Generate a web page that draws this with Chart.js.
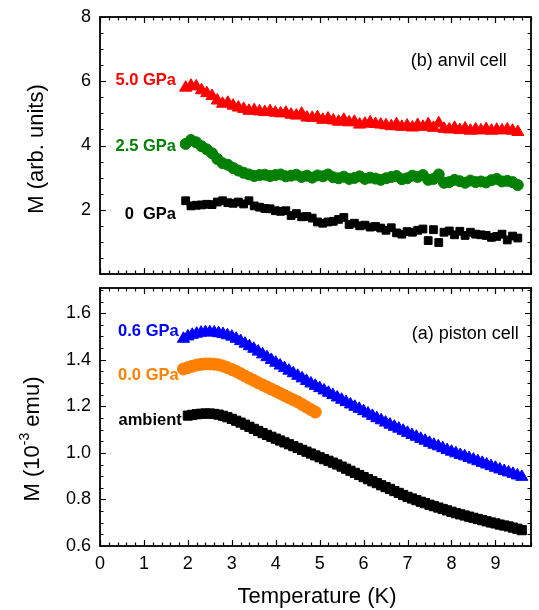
<!DOCTYPE html>
<html>
<head>
<meta charset="utf-8">
<script src="https://cdn.jsdelivr.net/npm/chart.js@4.4.0/dist/chart.umd.min.js"></script>
<style>
  body { margin: 0; background: #fff; }
  #wrap { position: relative; width: 539px; height: 610px; }
  canvas { position: absolute; left: 0; }
  #anvilChart { top: 0; }
  #pistonChart { top: 280px; }
</style>
</head>
<body>
<div id="wrap">
  <canvas id="pistonChart" width="539" height="330"></canvas>
  <canvas id="anvilChart" width="539" height="282"></canvas>
</div>
<script>
// --- data ---

// (b) anvil cell
const anvilTemps = [
  1.95,2.07,2.19,2.31,2.43,2.55,2.67,2.79,
  2.91,3.03,3.15,3.27,3.39,3.51,3.63,3.75,
  3.87,3.99,4.11,4.23,4.35,4.47,4.59,4.71,
  4.83,4.95,5.07,5.19,5.31,5.43,5.55,5.67,
  5.79,5.91,6.03,6.15,6.27,6.39,6.51,6.63,
  6.75,6.87,6.99,7.11,7.23,7.35,7.47,7.59,
  7.71,7.83,7.95,8.07,8.19,8.31,8.43,8.55,
  8.67,8.79,8.91,9.03,9.15,9.27,9.39,9.51
];
const anvil50GPa = [
  5.80,5.86,5.84,5.72,5.63,5.54,5.40,5.30,
  5.33,5.24,5.18,5.14,5.08,5.10,5.06,5.04,
  5.07,5.02,5.00,5.02,4.96,4.93,4.99,4.87,
  4.86,4.88,4.80,4.84,4.78,4.74,4.80,4.72,
  4.74,4.65,4.68,4.72,4.67,4.65,4.63,4.60,
  4.66,4.58,4.62,4.56,4.64,4.58,4.66,4.55,
  4.69,4.52,4.50,4.55,4.48,4.53,4.46,4.50,
  4.47,4.51,4.46,4.49,4.47,4.50,4.46,4.42
];
const anvil25GPa = [
  4.05,4.17,4.10,3.98,3.88,3.76,3.58,3.45,
  3.40,3.30,3.22,3.15,3.10,3.05,3.08,3.09,
  3.05,3.08,3.10,3.04,3.06,3.09,3.02,3.06,
  3.00,3.07,3.04,3.10,3.01,2.98,3.03,2.96,
  2.99,3.04,2.96,3.00,2.97,2.93,2.98,3.02,
  3.05,2.95,2.98,3.06,3.02,3.08,2.93,2.96,
  3.10,2.84,2.86,2.93,2.89,2.84,2.91,2.86,
  2.88,2.85,2.92,2.96,2.88,2.90,2.86,2.77
];
const anvil0GPa = [
  2.28,2.12,2.14,2.15,2.17,2.16,2.24,2.28,
  2.22,2.20,2.24,2.18,2.28,2.12,2.08,2.04,
  2.03,1.97,1.95,1.97,1.82,1.88,1.78,1.79,
  1.74,1.62,1.58,1.62,1.64,1.70,1.76,1.54,
  1.58,1.50,1.52,1.46,1.48,1.43,1.36,1.44,
  1.28,1.24,1.32,1.30,1.36,1.40,1.04,1.38,
  0.98,1.30,1.34,1.22,1.33,1.20,1.30,1.24,
  1.22,1.20,1.14,1.17,1.24,1.06,1.18,1.12
];

// (a) piston cell
const pistonTemps = [
  1.9,2.0,2.1,2.2,2.3,2.4,2.5,2.6,2.7,2.8,
  2.9,3.0,3.1,3.2,3.3,3.4,3.5,3.6,3.7,3.8,
  3.9,4.0,4.1,4.2,4.3,4.4,4.5,4.6,4.7,4.8,
  4.9,5.0,5.1,5.2,5.3,5.4,5.5,5.6,5.7,5.8,
  5.9,6.0,6.1,6.2,6.3,6.4,6.5,6.6,6.7,6.8,
  6.9,7.0,7.1,7.2,7.3,7.4,7.5,7.6,7.7,7.8,
  7.9,8.0,8.1,8.2,8.3,8.4,8.5,8.6,8.7,8.8,
  8.9,9.0,9.1,9.2,9.3,9.4,9.5,9.6
];
const piston06GPa = [
  1.490,1.500,1.507,1.512,1.516,1.518,1.518,1.517,1.514,1.510,
  1.505,1.499,1.490,1.480,1.469,1.458,1.447,1.435,1.423,1.411,
  1.399,1.387,1.375,1.364,1.353,1.342,1.331,1.320,1.309,1.298,
  1.288,1.278,1.268,1.258,1.248,1.238,1.228,1.218,1.208,1.198,
  1.189,1.179,1.169,1.159,1.149,1.140,1.130,1.121,1.112,1.104,
  1.095,1.086,1.077,1.069,1.060,1.052,1.043,1.035,1.028,1.020,
  1.012,1.005,0.998,0.991,0.985,0.978,0.971,0.964,0.957,0.950,
  0.943,0.936,0.929,0.922,0.916,0.910,0.903,0.897
];
// 0.0 GPa only runs 1.9 .. 4.9 K
const piston00GPa = [
  1.360,1.366,1.372,1.377,1.380,1.382,1.382,1.381,1.378,1.373,
  1.366,1.358,1.350,1.340,1.330,1.320,1.311,1.301,1.292,1.283,
  1.274,1.265,1.256,1.246,1.237,1.228,1.219,1.208,1.197,1.186,
  1.175
];
// ambient starts at 2.0 K
const pistonAmbient = [
  1.160,1.163,1.166,1.168,1.169,1.169,1.167,1.164,1.159,1.153,
  1.146,1.138,1.130,1.121,1.112,1.103,1.094,1.085,1.077,1.069,
  1.061,1.053,1.045,1.037,1.029,1.021,1.013,1.005,0.997,0.989,
  0.981,0.973,0.966,0.958,0.950,0.941,0.932,0.923,0.914,0.905,
  0.896,0.887,0.878,0.870,0.861,0.853,0.845,0.836,0.828,0.819,
  0.811,0.804,0.797,0.790,0.784,0.777,0.771,0.765,0.759,0.753,
  0.747,0.741,0.736,0.731,0.726,0.721,0.716,0.711,0.706,0.701,
  0.697,0.692,0.688,0.684,0.679,0.674,0.668
];

// tick labels
const xTicks = [0,1,2,3,4,5,6,7,8,9];
const anvilYTicks = [2,4,6,8];
const pistonYTicks = [0.6,0.8,1.0,1.2,1.4,1.6];

const FONT = "'Liberation Sans', Arial, Helvetica, sans-serif";
const RED = '#ff0000', GREEN = '#008000', BLUE = '#0000ff', ORANGE = '#ff8000', BLACK = '#000000';

const toPoints = (xs, ys) => ys.map((v, i) => ({ x: xs[i], y: v }));

// frame, inward major/minor ticks, in-plot labels and axis titles
const panelPlugin = {
  id: 'panel',
  afterDraw(chart, args, o) {
    const { ctx, chartArea: a } = chart;
    const xs = chart.scales.x, ys = chart.scales.y;
    ctx.save();
    ctx.strokeStyle = '#000';
    ctx.lineWidth = 1.2;
    ctx.beginPath();
    for (let i = 0; i * o.xMinor <= xs.max + 1e-9; i++) {
      const v = i * o.xMinor;
      const major = Math.abs(v / o.xMajor - Math.round(v / o.xMajor)) < 1e-6;
      const len = major ? 6 : 3.5;
      const px = Math.round(xs.getPixelForValue(v)) + 0.5;
      ctx.moveTo(px, a.top); ctx.lineTo(px, a.top + len);
      ctx.moveTo(px, a.bottom); ctx.lineTo(px, a.bottom - len);
    }
    for (let i = 0; ys.min + i * o.yMinor <= ys.max + 1e-9; i++) {
      const v = ys.min + i * o.yMinor;
      const major = Math.abs(v / o.yMajor - Math.round(v / o.yMajor)) < 1e-6;
      const len = major ? 6 : 3.5;
      const py = Math.round(ys.getPixelForValue(v)) + 0.5;
      ctx.moveTo(a.left, py); ctx.lineTo(a.left + len, py);
      ctx.moveTo(a.right, py); ctx.lineTo(a.right - len, py);
    }
    ctx.stroke();
    ctx.lineWidth = 1.8;
    ctx.strokeRect(a.left, a.top, a.right - a.left, a.bottom - a.top);

    ctx.textBaseline = 'middle';
    o.labels.forEach(l => {
      ctx.fillStyle = l.color;
      ctx.font = l.font;
      ctx.textAlign = 'right';
      ctx.fillText(l.text, xs.getPixelForValue(l.x), ys.getPixelForValue(l.y));
    });

    // y title, rotated, with optional superscript
    const t = o.yTitle;
    ctx.save();
    ctx.translate(t.x, t.y);
    ctx.rotate(-Math.PI / 2);
    ctx.fillStyle = '#000';
    ctx.textBaseline = 'alphabetic';
    ctx.textAlign = 'left';
    const big = '22px ' + FONT, small = '14px ' + FONT;
    ctx.font = big;
    const w1 = ctx.measureText(t.pre).width;
    const w3 = ctx.measureText(t.post).width;
    ctx.font = small;
    const w2 = t.sup ? ctx.measureText(t.sup).width : 0;
    let cx = -(w1 + w2 + w3) / 2;
    ctx.font = big;
    ctx.fillText(t.pre, cx, 0); cx += w1;
    if (t.sup) { ctx.font = small; ctx.fillText(t.sup, cx, -10); cx += w2; }
    ctx.font = big;
    ctx.fillText(t.post, cx, 0);
    ctx.restore();

    if (o.xTitle) {
      ctx.fillStyle = '#000';
      ctx.font = '22px ' + FONT;
      ctx.textAlign = 'center';
      ctx.textBaseline = 'alphabetic';
      ctx.fillText(o.xTitle.text, o.xTitle.x, o.xTitle.y);
    }
    ctx.restore();
  }
};

const labelBold = 'bold 16.5px ' + FONT;
const labelNormal = '18px ' + FONT;

const tickOpts = { padding: 9, color: '#000', font: { family: FONT, size: 18 } };

// top panel: anvil cell
new Chart(document.getElementById('anvilChart'), {
  type: 'scatter',
  data: {
    datasets: [
      { data: toPoints(anvilTemps, anvil50GPa), pointStyle: 'triangle', pointRadius: 7,
        backgroundColor: RED, borderColor: RED, pointBorderWidth: 1 },
      { data: toPoints(anvilTemps, anvil25GPa), pointStyle: 'circle', pointRadius: 5.5,
        backgroundColor: GREEN, borderColor: GREEN, pointBorderWidth: 1 },
      { data: toPoints(anvilTemps, anvil0GPa), pointStyle: 'rect', pointRadius: 5.5,
        backgroundColor: BLACK, borderColor: BLACK, pointBorderWidth: 1 }
    ]
  },
  options: {
    responsive: false, animation: false, devicePixelRatio: 1,
    layout: { padding: { top: 17, right: 6, bottom: 2, left: 0 } },
    plugins: {
      legend: { display: false }, tooltip: { enabled: false },
      panel: {
        xMinor: 0.2, xMajor: 1, yMinor: 0.5, yMajor: 2,
        labels: [
          { text: '5.0 GPa', x: 1.73, y: 6.02, color: RED, font: labelBold },
          { text: '2.5 GPa', x: 1.73, y: 3.97, color: GREEN, font: labelBold },
          { text: '0  GPa', x: 1.73, y: 1.85, color: BLACK, font: labelBold },
          { text: '(b) anvil cell', x: 9.26, y: 6.64, color: BLACK, font: labelNormal }
        ],
        yTitle: { x: 43, y: 149, pre: 'M (arb. units)', sup: '', post: '' }
      }
    },
    scales: {
      x: { type: 'linear', min: 0, max: 9.81, display: false },
      y: {
        type: 'linear', min: 0, max: 8,
        afterBuildTicks: s => { s.ticks = anvilYTicks.map(v => ({ value: v })); },
        afterFit: s => { s.width = 100; s.paddingTop = 0; s.paddingBottom = 0; },
        grid: { display: false, drawTicks: false }, border: { display: false },
        ticks: tickOpts
      }
    }
  },
  plugins: [panelPlugin]
});

// bottom panel: piston cell
new Chart(document.getElementById('pistonChart'), {
  type: 'scatter',
  data: {
    datasets: [
      { data: toPoints(pistonTemps, piston06GPa), pointStyle: 'triangle', pointRadius: 7,
        backgroundColor: BLUE, borderColor: BLUE, pointBorderWidth: 1 },
      { data: toPoints(pistonTemps, piston00GPa), pointStyle: 'circle', pointRadius: 6,
        backgroundColor: ORANGE, borderColor: ORANGE, pointBorderWidth: 1 },
      { data: toPoints(pistonTemps.slice(1), pistonAmbient), pointStyle: 'rect', pointRadius: 6.5,
        backgroundColor: BLACK, borderColor: BLACK, pointBorderWidth: 1 }
    ]
  },
  options: {
    responsive: false, animation: false, devicePixelRatio: 1,
    layout: { padding: { top: 0, right: 6, bottom: 0, left: 0 } },
    plugins: {
      legend: { display: false }, tooltip: { enabled: false },
      panel: {
        xMinor: 0.2, xMajor: 1, yMinor: 0.05, yMajor: 0.2,
        labels: [
          { text: '0.6 GPa', x: 1.79, y: 1.52, color: BLUE, font: labelBold },
          { text: '0.0 GPa', x: 1.79, y: 1.333, color: ORANGE, font: labelBold },
          { text: 'ambient', x: 1.86, y: 1.14, color: BLACK, font: labelBold },
          { text: '(a) piston cell', x: 9.53, y: 1.512, color: BLACK, font: labelNormal }
        ],
        yTitle: { x: 39, y: 159, pre: 'M (10', sup: '-3', post: ' emu)' },
        xTitle: { text: 'Temperature (K)', x: 317, y: 323 }
      }
    },
    scales: {
      x: {
        type: 'linear', min: 0, max: 9.81,
        afterBuildTicks: s => { s.ticks = xTicks.map(v => ({ value: v })); },
        afterFit: s => { s.height = 64; s.paddingLeft = 0; s.paddingRight = 0; },
        grid: { display: false, drawTicks: false }, border: { display: false },
        ticks: { padding: 7, color: '#000', font: { family: FONT, size: 18 }, maxRotation: 0 }
      },
      y: {
        type: 'linear', min: 0.6, max: 1.708,
        afterBuildTicks: s => { s.ticks = pistonYTicks.map(v => ({ value: v })); },
        afterFit: s => { s.width = 100; s.paddingTop = 0; s.paddingBottom = 0; },
        grid: { display: false, drawTicks: false }, border: { display: false },
        ticks: { ...tickOpts, callback: v => v.toFixed(1) }
      }
    }
  },
  plugins: [panelPlugin]
});
</script>
</body>
</html>
